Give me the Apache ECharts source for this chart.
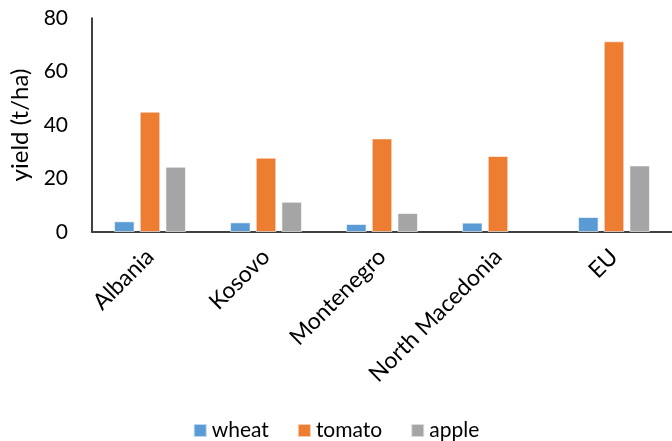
<!DOCTYPE html>
<html>
<head>
<meta charset="utf-8">
<script src="https://cdn.jsdelivr.net/npm/echarts@6/dist/echarts.min.js"></script>
<style>html,body{margin:0;padding:0;background:#fff}#c{width:672px;height:441px}</style>
</head>
<body>
<div id="c"></div>
<script>
const categories = ['Albania', 'Kosovo', 'Montenegro', 'North Macedonia', 'EU'];
const wheat = [4.0, 3.6, 3.0, 3.5, 5.6];
const tomato = [45.0, 27.8, 35.0, 28.4, 71.3];
const apple = [24.4, 11.3, 7.1, null, 24.9];
const yTicks = [0, 20, 40, 60, 80];

const font = 'Lato, "Liberation Sans", sans-serif';
const chart = echarts.init(document.getElementById('c'), null, {renderer: 'canvas'});
function bar(name, data, color) {
  return {
    name, type: 'bar', data,
    barCategoryGap: '38%', barGap: '25%',
    itemStyle: {color, borderColor: 'rgba(255,255,255,0.6)', borderWidth: 1},
    emphasis: {disabled: true}
  };
}
chart.setOption({
  animation: false,
  textStyle: {fontFamily: font},
  grid: {left: 92, right: 0, top: 18, bottom: 209, containLabel: false},
  legend: {
    top: 415, left: 'center', itemWidth: 13, itemHeight: 13, itemGap: 28, itemTextGap: 7,
    icon: 'rect',
    textStyle: {fontSize: 21, color: '#000', fontFamily: font},
    data: ['wheat', 'tomato', 'apple']
  },
  xAxis: {
    type: 'category', data: categories,
    axisLine: {lineStyle: {color: '#404040', width: 2}},
    axisTick: {show: false},
    axisLabel: {rotate: 45, fontSize: 23, color: '#000', margin: 21, interval: 0, fontFamily: font}
  },
  yAxis: {
    type: 'value', min: yTicks[0], max: yTicks[yTicks.length - 1], interval: 20,
    name: 'yield (t/ha)', nameLocation: 'middle', nameGap: 55,
    nameTextStyle: {fontSize: 24, color: '#000', fontFamily: font},
    axisLine: {show: true, lineStyle: {color: '#000', width: 1.5}},
    axisTick: {show: false},
    splitLine: {show: false},
    axisLabel: {fontSize: 21, color: '#000', margin: 24, fontFamily: font}
  },
  series: [
    bar('wheat', wheat, '#5b9bd5'),
    bar('tomato', tomato, '#ed7d31'),
    bar('apple', apple, '#a5a5a5')
  ]
});
</script>
</body>
</html>
